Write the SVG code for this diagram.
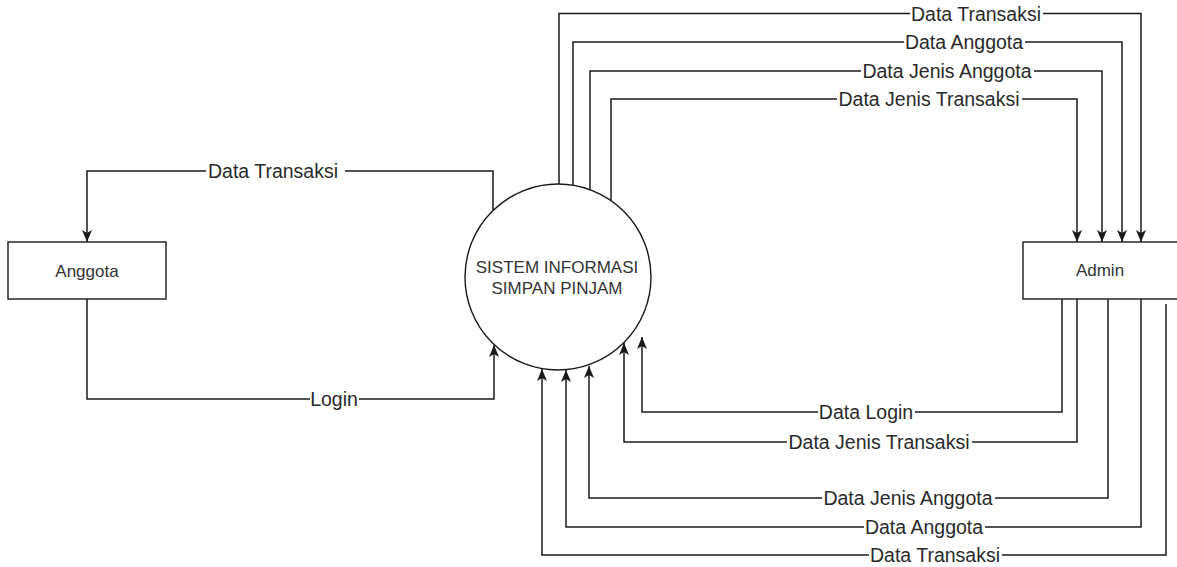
<svg xmlns="http://www.w3.org/2000/svg" width="1177" height="567" viewBox="0 0 1177 567">
  <style>
    .node { fill: #ffffff; stroke: #1a1a1a; stroke-width: 1.4; }
    .node-text { font-family: "Liberation Sans", Arial, sans-serif; font-size: 17px; fill: #333333; text-anchor: middle; }
    .flow { fill: none; stroke: #1a1a1a; stroke-width: 1.5; marker-end: url(#arrow); }
    .label-bg { fill: #ffffff; }
    .label { font-family: "Liberation Sans", Arial, sans-serif; font-size: 19.5px; fill: #2a2a2a; text-anchor: middle; }
  </style>
  <defs>
    <marker id="arrow" viewBox="0 0 12 12" refX="12" refY="6" markerWidth="12" markerHeight="12" markerUnits="userSpaceOnUse" orient="auto">
      <path d="M0,1 L12,6 L0,11 L3,6 Z" fill="#1a1a1a"/>
    </marker>
  </defs>
  <rect width="1177" height="567" fill="#ffffff"/>

  <!-- data flows -->
  <g id="connectors">
    <!-- system to admin (top) -->
    <g id="flow-transaksi-admin">
      <path class="flow" d="M559,184 V13.5 H1141 V242"/>
      <rect class="label-bg" x="910" y="5" width="133" height="17"/>
      <text class="label" x="976" y="20.5">Data Transaksi</text>
    </g>
    <g id="flow-anggota-admin">
      <path class="flow" d="M573,185 V42 H1122 V242"/>
      <rect class="label-bg" x="904" y="34" width="121" height="17"/>
      <text class="label" x="964" y="49">Data Anggota</text>
    </g>
    <g id="flow-jenis-anggota-admin">
      <path class="flow" d="M590,190 V71 H1102 V242"/>
      <rect class="label-bg" x="861" y="63" width="173" height="17"/>
      <text class="label" x="947" y="78">Data Jenis Anggota</text>
    </g>
    <g id="flow-jenis-transaksi-admin">
      <path class="flow" d="M611,201 V99 H1077 V242"/>
      <rect class="label-bg" x="837" y="91" width="185" height="17"/>
      <text class="label" x="929" y="106">Data Jenis Transaksi</text>
    </g>

    <!-- system and member -->
    <g id="flow-transaksi-anggota">
      <path class="flow" d="M493,210 V171 H87 V242"/>
      <rect class="label-bg" x="206" y="163" width="139" height="17"/>
      <text class="label" x="273" y="178">Data Transaksi</text>
    </g>
    <g id="flow-login">
      <path class="flow" d="M87,299 V399 H494 V345"/>
      <rect class="label-bg" x="310" y="391" width="49" height="17"/>
      <text class="label" x="334" y="406">Login</text>
    </g>

    <!-- admin to system (bottom) -->
    <g id="flow-data-login">
      <path class="flow" d="M1062,299 V412 H642 V337"/>
      <rect class="label-bg" x="818" y="404" width="97" height="17"/>
      <text class="label" x="866" y="419">Data Login</text>
    </g>
    <g id="flow-jenis-transaksi-sistem">
      <path class="flow" d="M1077,299 V442 H624 V343"/>
      <rect class="label-bg" x="787" y="434" width="185" height="17"/>
      <text class="label" x="879" y="449">Data Jenis Transaksi</text>
    </g>
    <g id="flow-jenis-anggota-sistem">
      <path class="flow" d="M1108,299 V498 H589 V366"/>
      <rect class="label-bg" x="822" y="490" width="173" height="17"/>
      <text class="label" x="908" y="505">Data Jenis Anggota</text>
    </g>
    <g id="flow-anggota-sistem">
      <path class="flow" d="M1141,299 V527 H566 V370"/>
      <rect class="label-bg" x="864" y="519" width="121" height="17"/>
      <text class="label" x="924" y="534">Data Anggota</text>
    </g>
    <g id="flow-transaksi-sistem">
      <path class="flow" d="M1166,304 V555 H542 V369"/>
      <rect class="label-bg" x="869" y="547" width="133" height="17"/>
      <text class="label" x="935" y="562">Data Transaksi</text>
    </g>
  </g>

  <!-- entities and process -->
  <g id="anggota">
    <rect class="node" x="8" y="242" width="158" height="57"/>
    <text class="node-text" x="87" y="277">Anggota</text>
  </g>
  <g id="sistem">
    <circle class="node" cx="558" cy="277" r="93"/>
    <text class="node-text" x="557" y="273">SISTEM INFORMASI</text>
    <text class="node-text" x="557" y="294">SIMPAN PINJAM</text>
  </g>
  <g id="admin">
    <rect class="node" x="1023" y="242" width="158" height="57"/>
    <text class="node-text" x="1100" y="276">Admin</text>
  </g>
</svg>
